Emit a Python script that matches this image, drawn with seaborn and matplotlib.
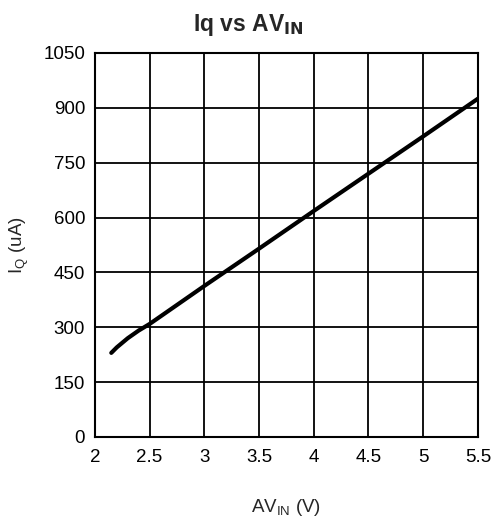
import seaborn as sns
import matplotlib.pyplot as plt
import pandas as pd

av_in = [2.15, 2.2, 2.3, 2.4, 2.5, 3.0, 3.5, 4.0, 4.5, 5.0, 5.5]
iq_ua = [230, 245, 270, 291, 309, 413, 515, 618, 720, 822, 925]

sns.set_style("white")
plt.rcParams['font.family'] = ['Liberation Sans', 'DejaVu Sans']

df = pd.DataFrame({'AVIN': av_in, 'IQ': iq_ua})

fig = plt.figure(figsize=(5.02, 5.32), dpi=100)
ax = fig.add_axes([0.189, 0.1786, 0.763, 0.7218])
sns.lineplot(data=df, x='AVIN', y='IQ', color='black', linewidth=3, ax=ax)

ax.set_xlim(2, 5.5)
ax.set_ylim(0, 1050)
ax.set_xticks([2, 2.5, 3, 3.5, 4, 4.5, 5, 5.5])
ax.set_xticklabels(['2', '2.5', '3', '3.5', '4', '4.5', '5', '5.5'])
ax.set_yticks(range(0, 1051, 150))
ax.grid(True, color='black', linewidth=1.3)
for s in ax.spines.values():
    s.set_color('black')
    s.set_linewidth(1.5)
ax.tick_params(length=0, labelsize=13.5, colors='black')
ax.tick_params(axis='x', pad=9)
ax.tick_params(axis='y', pad=7)

# title is centred on the figure, not on the axes
fig.suptitle(r'Iq vs AV$_{\mathbf{IN}}$', x=0.495, y=0.978, va='top',
             fontsize=16.5, fontweight='bold')
ax.set_xlabel(r'AV$_{\mathregular{IN}}$ (V)', fontsize=13.5, labelpad=22)
ax.set_ylabel(r'I$_{\mathregular{Q}}$ (uA)', fontsize=13.5, labelpad=9)

fig.savefig('out.png', dpi=100)
